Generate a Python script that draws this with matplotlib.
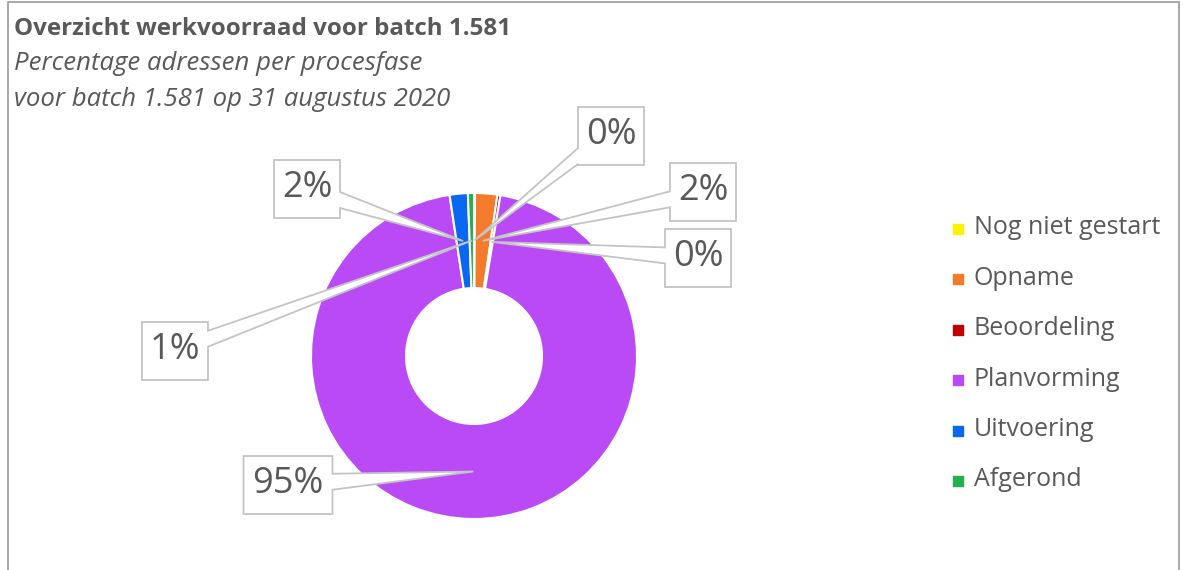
import numpy as np
import matplotlib.pyplot as plt
import matplotlib as mpl
from matplotlib.patches import Polygon, Rectangle

mpl.rcParams['font.family'] = ['Open Sans', 'DejaVu Sans']

# data
fases = ['Nog niet gestart', 'Opname', 'Beoordeling', 'Planvorming', 'Uitvoering', 'Afgerond']
waarden = [0.1, 2.2, 0.3, 95.0, 1.8, 0.6]   # percentage adressen (geschat)
kleuren = ['#FFF200', '#F47A2C', '#C00000', '#B94AF5', '#0A68F0', '#22B04A']

titel = 'Overzicht werkvoorraad voor batch 1.581'
sub1 = 'Percentage adressen per procesfase'
sub2 = 'voor batch 1.581 op 31 augustus 2020'

# layout (pixel coords, y up)
W, H = 1183, 570
cx, cy = 474, H - 356
R = 163
ring = 95
# label box centers, per slice
box_pos = [(611, H - 136), (703, H - 192), (698, H - 258),
           (288, H - 485), (307, H - 189), (175, H - 351)]
box_h = 58
grijs = '#595959'
rand = '#C4C4C4'

fig = plt.figure(figsize=(W / 100, H / 100), dpi=100)
ax = fig.add_axes([0, 0, 1, 1])

ax.pie(waarden, colors=kleuren, center=(cx, cy), radius=R, startangle=90,
       counterclock=False, wedgeprops=dict(width=ring, edgecolor='white', linewidth=1.5))
ax.set_xlim(0, W)
ax.set_ylim(0, H)
ax.set_aspect('equal')
ax.axis('off')


def callout(bx, by, px, py, txt):
    box_w = 20 + 23 * len(txt)
    x0, x1 = bx - box_w / 2, bx + box_w / 2
    y0, y1 = by - box_h / 2, by + box_h / 2
    # point where line center->anchor leaves the box on the left/right side
    dx, dy = px - bx, py - by
    side = x1 if dx > 0 else x0
    t = (side - bx) / dx
    ym = by + t * dy
    ym = min(max(ym, y0 + 9), y1 - 9)
    b = 8
    if dx > 0:
        pts = [(x0, y1), (x1, y1), (x1, ym + b), (px, py), (x1, ym - b), (x1, y0), (x0, y0)]
    else:
        pts = [(x0, y1), (x1, y1), (x1, y0), (x0, y0), (x0, ym - b), (px, py), (x0, ym + b)]
    ax.add_patch(Polygon(pts, closed=True, facecolor='white', edgecolor=rand,
                         linewidth=1.3, zorder=5))
    ax.text(bx, by + 1, txt, ha='center', va='center', fontsize=26, color=grijs, zorder=6)


tot = sum(waarden)
cum = 0
r_mid = R - ring / 2
for i, v in enumerate(waarden):
    mid = cum + v / 2
    ang = np.deg2rad(90 - 360 * mid / tot)
    px, py = cx + r_mid * np.cos(ang), cy + r_mid * np.sin(ang)
    cum += v
    bx, by = box_pos[i]
    callout(bx, by, px, py, f'{v:.0f}%')

# titles
ax.text(14, H - 29, titel, fontsize=17.4, fontweight='bold', color=grijs, va='center')
ax.text(14, H - 64, sub1, fontsize=18.5, style='italic', color=grijs, va='center')
ax.text(14, H - 99, sub2, fontsize=18.5, style='italic', color=grijs, va='center')

# legend
for i, (naam, kl) in enumerate(zip(fases, kleuren)):
    ly = H - (229 + i * 50.4)
    ax.scatter([958], [ly], marker='s', s=60, color=kl, zorder=4)
    ax.text(974, ly + 1, naam, fontsize=18, color=grijs, va='center')

# frame
ax.add_patch(Rectangle((8, -5), 1171, H - 2 - (-5), fill=False, edgecolor='#9A9A9A', linewidth=1.2))

fig.savefig('out.png', dpi=100)
